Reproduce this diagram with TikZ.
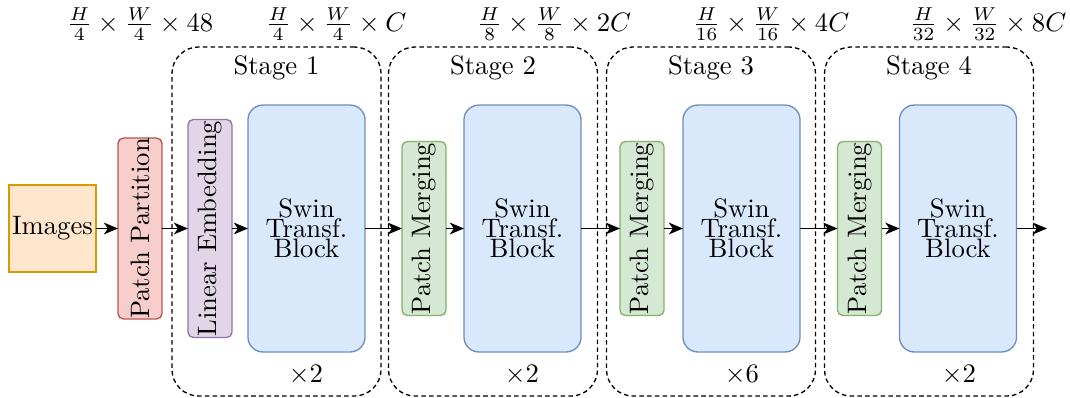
\documentclass[tikz,border=0pt]{standalone}
\usepackage{graphicx}
\usetikzlibrary{arrows.meta}
\definecolor{imgF}{HTML}{FFE6CC}\definecolor{imgD}{HTML}{D79B00}
\definecolor{redF}{HTML}{F8CECC}\definecolor{redD}{HTML}{B85450}
\definecolor{purF}{HTML}{E1D5E7}\definecolor{purD}{HTML}{9673A6}
\definecolor{bluF}{HTML}{DAE8FC}\definecolor{bluD}{HTML}{6C8EBF}
\definecolor{grnF}{HTML}{D5E8D4}\definecolor{grnD}{HTML}{82B366}
\tikzset{
  box/.style={draw, line width=0.5pt, inner sep=0pt, outer sep=0pt},
  thinbox/.style={box, rounded corners=2pt, minimum width=16.5pt},
  swin/.style={box, fill=bluF, draw=bluD, rounded corners=5.6pt, minimum width=43.9pt, minimum height=92.6pt, align=center},
  merge/.style={thinbox, fill=grnF, draw=grnD, minimum height=65.25pt},
  stagebox/.style={draw, dash pattern=on 1.7pt off 1.2pt, line width=0.5pt, rounded corners=10pt, minimum width=78.4pt, minimum height=130.9pt, inner sep=0pt},
  conn/.style={line width=0.65pt, -{Stealth[length=5.3pt, width=4.4pt, inset=1.5pt]}},
}
\begin{document}
\begin{tikzpicture}[x=0.375pt, y=-0.375pt]
\useasboundingbox (0,0) rectangle (1070,397);
% stage boxes
\node[stagebox] (s1) at (276.5,221.5) {};
\node[stagebox] (s2) at (493,221.5) {};
\node[stagebox] (s3) at (711,221.5) {};
\node[stagebox] (s4) at (929,221.5) {};
\node (l1) at (276.5,68) {Stage 1};
\node (l2) at (493,68) {Stage 2};
\node (l3) at (711,68) {Stage 3};
\node (l4) at (929,68) {Stage 4};
\node (r1) at (306,375) {$\times 2$};
\node (r2) at (522,375) {$\times 2$};
\node (r3) at (742,375) {$\times 6$};
\node (r4) at (959,375) {$\times 2$};
% top dimension labels
\node (d0) at (140,24) {$\frac{H}{4}\times\frac{W}{4}\times 48$};
\node (d1) at (336,24) {$\frac{H}{4}\times\frac{W}{4}\times C$};
\node (d2) at (554,24) {$\frac{H}{8}\times\frac{W}{8}\times 2C$};
\node (d3) at (771,24) {$\frac{H}{16}\times\frac{W}{16}\times 4C$};
\node (d4) at (988,24) {$\frac{H}{32}\times\frac{W}{32}\times 8C$};
% blocks
\node[box, fill=imgF, draw=imgD, minimum width=32.6pt, minimum height=32.6pt] (img) at (52.5,228.5) {Images};
\node[thinbox, fill=redF, draw=redD, minimum height=65.25pt] (pp) at (140,228.5) {\rotatebox{90}{Patch Partition}};
\node[thinbox, fill=purF, draw=purD, minimum height=81.75pt] (le) at (210,228.5) {\rotatebox{90}{Linear Embedding}};
\node[swin] (b1) at (306.5,228.5) {Swin\\[-4.5pt]Transf.\\[-4.5pt]Block};
\node[merge] (m2) at (424,228.5) {\rotatebox{90}{Patch Merging}};
\node[swin] (b2) at (522.5,228.5) {Swin\\[-4.5pt]Transf.\\[-4.5pt]Block};
\node[merge] (m3) at (642,228.5) {\rotatebox{90}{Patch Merging}};
\node[swin] (b3) at (741.5,228.5) {Swin\\[-4.5pt]Transf.\\[-4.5pt]Block};
\node[merge] (m4) at (859.5,228.5) {\rotatebox{90}{Patch Merging}};
\node[swin] (b4) at (958,228.5) {Swin\\[-4.5pt]Transf.\\[-4.5pt]Block};
\coordinate (out) at (1047,228.5);
% connectors
\draw[conn] (img) -- (pp);
\draw[conn] (pp) -- (le);
\draw[conn] (le) -- (b1);
\draw[conn] (b1) -- (m2);
\draw[conn] (m2) -- (b2);
\draw[conn] (b2) -- (m3);
\draw[conn] (m3) -- (b3);
\draw[conn] (b3) -- (m4);
\draw[conn] (m4) -- (b4);
\draw[conn] (b4) -- (out);
\end{tikzpicture}
\end{document}
